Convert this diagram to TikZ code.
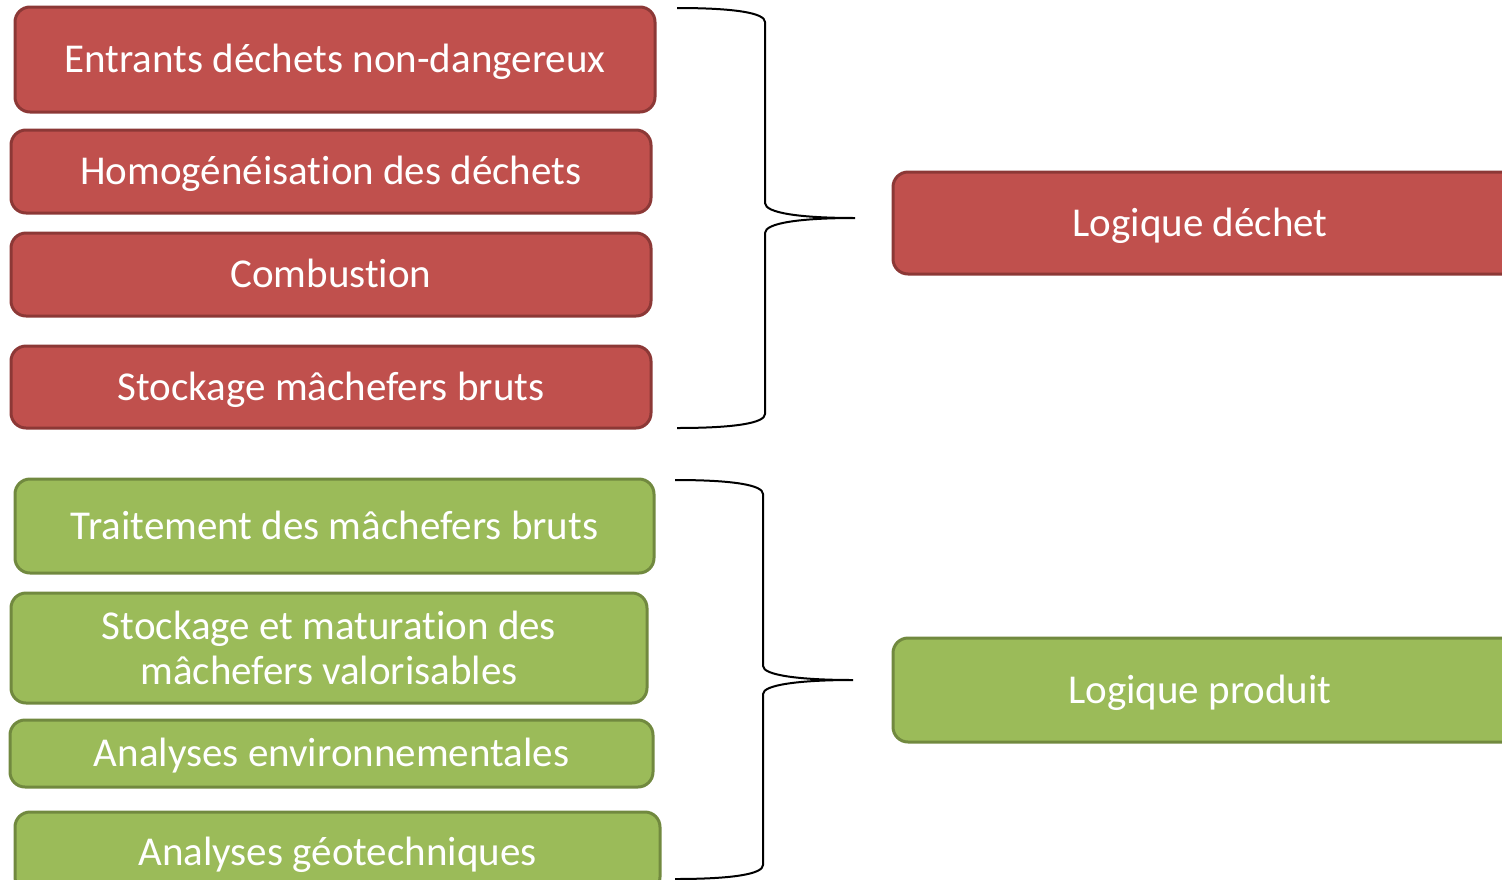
\documentclass[tikz,border=0pt]{standalone}
\usepackage{fontspec}
\setmainfont{Carlito}[Ligatures={NoCommon}]
\definecolor{redfill}{HTML}{C0504D}
\definecolor{redline}{HTML}{8C3836}
\definecolor{greenfill}{HTML}{9BBB59}
\definecolor{greenline}{HTML}{71893F}
\tikzset{
  box/.style={rectangle, rounded corners=15pt, line width=3pt, text=white,
    font=\fontsize{41}{45}\selectfont, align=center, inner sep=0pt},
  oneline/.style={text height=33pt, text depth=7pt},
  redbox/.style={box, fill=redfill, draw=redline},
  greenbox/.style={box, fill=greenfill, draw=greenline},
  boxtext/.style={text=white, font=\fontsize{41}{45}\selectfont, inner sep=0pt, oneline},
  bracestyle/.style={draw=black, line width=2pt}
}
\begin{document}
\begin{tikzpicture}[x=1pt,y=-1pt]
\useasboundingbox (0,0) rectangle (1502,879);
% red group
\node[redbox, oneline, minimum width=640pt, minimum height=105pt] (e1) at (335,59.5) {Entrants déchets non-dangereux};
\node[redbox, oneline, minimum width=640pt, minimum height=83pt] (e2) at (331,171.5) {Homogénéisation des déchets};
\node[redbox, oneline, minimum width=640pt, minimum height=83pt] (e3) at (331,274.5) {Combustion};
\node[redbox, oneline, minimum width=640pt, minimum height=82pt] (e4) at (331,387) {Stockage mâchefers bruts};
% green group
\node[greenbox, oneline, minimum width=639pt, minimum height=94pt] (g1) at (334.5,526) {Traitement des mâchefers bruts};
\node[greenbox, minimum width=636pt, minimum height=110pt] (g2) at (329,648) {Stockage et maturation des\\mâchefers valorisables};
\node[greenbox, oneline, minimum width=643pt, minimum height=67pt] (g3) at (331.5,753.5) {Analyses environnementales};
\node[greenbox, oneline, minimum width=645pt, minimum height=80pt] (g4) at (337.5,852) {Analyses géotechniques};
% right boxes
\node[redbox, minimum width=640pt, minimum height=102pt] (ld) at (1213,223) {};
\node[boxtext] (ldt) at (1200,223) {Logique déchet};
\node[greenbox, minimum width=640pt, minimum height=104pt] (lp) at (1213,690) {};
\node[boxtext] (lpt) at (1200,690) {Logique produit};
% braces
\coordinate (b1top) at (677,8);
\coordinate (b1tip) at (855,218);
\coordinate (b1bot) at (677,428);
\draw[bracestyle] (b1top) .. controls (735,8) and (765,13) .. (765,22)
  -- (765,203) .. controls (765,213) and (800,218) .. (b1tip)
  (b1tip) .. controls (800,218) and (765,223) .. (765,233)
  -- (765,414) .. controls (765,423) and (735,428) .. (b1bot);
\coordinate (b2top) at (675,480);
\coordinate (b2tip) at (853,680);
\coordinate (b2bot) at (675,879);
\draw[bracestyle] (b2top) .. controls (733,480) and (763,485) .. (763,494)
  -- (763,666) .. controls (763,675) and (798,680) .. (b2tip)
  (b2tip) .. controls (798,680) and (763,685) .. (763,694)
  -- (763,865) .. controls (763,874) and (733,879) .. (b2bot);
\end{tikzpicture}
\end{document}
